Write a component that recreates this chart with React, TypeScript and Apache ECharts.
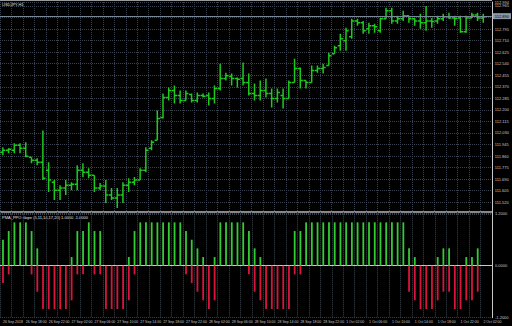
import React, { useEffect, useRef } from "react";
import * as echarts from "echarts";

// time-axis labels, one every 4 bars (first bar is partially visible)
const timeLabels = [
  "26 Sep 2018", "26 Sep 18:00", "26 Sep 22:00", "27 Sep 02:00", "27 Sep 06:00",
  "27 Sep 10:00", "27 Sep 14:00", "27 Sep 18:00", "27 Sep 22:00", "28 Sep 02:00",
  "28 Sep 06:00", "28 Sep 10:00", "28 Sep 14:00", "28 Sep 18:00", "28 Sep 22:00",
  "1 Oct 02:00", "1 Oct 06:00", "1 Oct 10:00", "1 Oct 14:00", "1 Oct 18:00",
  "1 Oct 22:00", "2 Oct 02:00",
];

// USDJPY H1 OHLC
const opens = [
  111.888, 111.902, 111.902, 111.939, 111.917, 111.851, 111.829, 111.815, 111.756, 111.668,
  111.609, 111.624, 111.646, 111.653, 111.756, 111.741, 111.719, 111.624, 111.639, 111.573,
  111.551, 111.573, 111.646, 111.668, 111.683, 111.756, 111.917, 111.976, 112.144, 112.291,
  112.342, 112.306, 112.269, 112.313, 112.269, 112.306, 112.306, 112.284, 112.357, 112.430,
  112.445, 112.430, 112.430, 112.401, 112.320, 112.306, 112.342, 112.320, 112.284, 112.306,
  112.284, 112.401, 112.504, 112.416, 112.401, 112.489, 112.504, 112.526, 112.614, 112.672,
  112.709, 112.738, 112.855, 112.841, 112.797, 112.819, 112.782, 112.870, 112.929, 112.855,
  112.870, 112.892, 112.870, 112.855, 112.841, 112.855, 112.855, 112.870, 112.885, 112.877,
  112.877, 112.775, 112.877, 112.899, 112.877,
];
const highs = [
  111.924, 111.917, 111.954, 111.954, 111.961, 111.851, 111.844, 112.049, 111.815, 111.683,
  111.646, 111.683, 111.668, 111.793, 111.807, 111.771, 111.719, 111.661, 111.683, 111.624,
  111.624, 111.668, 111.697, 111.705, 111.771, 111.924, 111.976, 112.196, 112.320, 112.364,
  112.379, 112.342, 112.342, 112.320, 112.328, 112.320, 112.328, 112.379, 112.540, 112.474,
  112.467, 112.438, 112.548, 112.467, 112.394, 112.416, 112.430, 112.357, 112.357, 112.357,
  112.416, 112.577, 112.511, 112.416, 112.526, 112.526, 112.540, 112.621, 112.672, 112.760,
  112.804, 112.870, 112.870, 112.855, 112.841, 112.833, 112.877, 112.951, 112.951, 112.892,
  112.929, 112.892, 112.877, 112.907, 112.965, 112.877, 112.892, 112.907, 112.914, 112.892,
  112.892, 112.892, 112.914, 112.914, 112.907,
];
const lows = [
  111.866, 111.881, 111.881, 111.881, 111.851, 111.807, 111.793, 111.683, 111.595, 111.536,
  111.536, 111.573, 111.609, 111.609, 111.705, 111.697, 111.595, 111.609, 111.514, 111.536,
  111.477, 111.514, 111.595, 111.646, 111.683, 111.741, 111.902, 111.976, 112.137, 112.269,
  112.247, 112.247, 112.269, 112.254, 112.254, 112.291, 112.232, 112.247, 112.342, 112.416,
  112.379, 112.364, 112.379, 112.306, 112.269, 112.269, 112.291, 112.218, 112.254, 112.210,
  112.284, 112.401, 112.357, 112.357, 112.401, 112.474, 112.467, 112.526, 112.614, 112.635,
  112.635, 112.723, 112.819, 112.760, 112.760, 112.767, 112.767, 112.870, 112.833, 112.833,
  112.855, 112.841, 112.819, 112.797, 112.782, 112.804, 112.833, 112.855, 112.870, 112.819,
  112.767, 112.767, 112.877, 112.855, 112.841,
];
const closes = [
  111.902, 111.910, 111.939, 111.917, 111.859, 111.829, 111.815, 111.697, 111.683, 111.609,
  111.624, 111.646, 111.653, 111.756, 111.741, 111.719, 111.624, 111.639, 111.573, 111.551,
  111.573, 111.646, 111.668, 111.683, 111.756, 111.902, 111.961, 112.137, 112.291, 112.342,
  112.306, 112.269, 112.320, 112.269, 112.306, 112.300, 112.284, 112.357, 112.430, 112.452,
  112.430, 112.425, 112.401, 112.320, 112.306, 112.342, 112.320, 112.284, 112.328, 112.284,
  112.401, 112.504, 112.416, 112.401, 112.489, 112.504, 112.511, 112.599, 112.657, 112.723,
  112.782, 112.855, 112.841, 112.782, 112.819, 112.811, 112.870, 112.929, 112.855, 112.870,
  112.892, 112.870, 112.855, 112.841, 112.855, 112.850, 112.870, 112.885, 112.877, 112.872,
  112.775, 112.877, 112.899, 112.877, 112.885,
];

// PPO slope histogram: green part (>= 0) and red part (<= 0)
const ppoUp = [
  0.6, 0.8, 1, 1, 1, 0.8, 0.4, 0, 0, 0,
  0, 0, 0.2, 0.8, 0.8, 1, 0.8, 0.8, 0, 0,
  0, 0, 0.2, 0.8, 1, 1, 1, 1, 1, 1,
  1, 1, 0.8, 0.6, 0.4, 0.2, 0, 0.2, 1, 1,
  1, 1, 1, 0.8, 0.4, 0.2, 0, 0, 0, 0,
  0, 0.8, 0.8, 1, 1, 1, 1, 1, 1, 1,
  1, 1, 1, 1, 1, 1, 1, 1, 1, 1,
  1, 0.4, 0.2, 0, 0, 0, 0.2, 0.4, 0.4, 0,
  0, 0.2, 0.2, 0.4,
];
const ppoDown = [
  -0.4, -0.2, 0, 0, 0, -0.2, -0.6, -1, -1, -1,
  -1, -1, -0.8, -0.2, -0.2, 0, -0.2, -0.2, -1, -1,
  -1, -1, -0.8, -0.2, 0, 0, 0, 0, 0, 0,
  0, 0, -0.2, -0.4, -0.6, -0.8, -1, -0.8, 0, 0,
  0, 0, 0, -0.2, -0.6, -0.8, -1, -1, -1, -1,
  -1, -0.2, -0.2, 0, 0, 0, 0, 0, 0, 0,
  0, 0, 0, 0, 0, 0, 0, 0, 0, 0,
  0, -0.6, -0.8, -1, -1, -1, -0.8, -0.6, -0.6, -1,
  -1, -0.8, -0.8, -0.6,
];

const PRICE_MIN = 111.435;
const PRICE_MAX = 112.994;
const PRICE_STEP = 0.085;

const FONT = "Liberation Sans";
const GRID_COLOR = "#3a434d";
const AXIS_COLOR = "#c8c8c8";
const BAR_COLOR = "#1ccc1c";

export default function App() {
  const ref = useRef<HTMLDivElement>(null);
  useEffect(() => {
    const chart = echarts.init(ref.current!, undefined, { renderer: "svg" });
    const n = opens.length + 1;
    const cats = Array.from({ length: n }, (_, i) => String(i));
    const ohlc = opens.map((o, i) => [i, o, closes[i], lows[i], highs[i]]);
    const lastClose = closes[closes.length - 1];

    const splitLine = {
      show: true,
      lineStyle: { color: GRID_COLOR, type: "dotted" as const, width: 1 },
    };

    chart.setOption({
      animation: false,
      backgroundColor: "#000000",
      grid: [
        { left: -2.625, right: 20, top: 1, height: 212.8 },
        { left: -2.625, right: 20, top: 213.7, height: 104 },
      ],
      xAxis: [
        {
          type: "category", gridIndex: 0, data: cats, boundaryGap: true,
          axisLine: { show: false }, axisTick: { show: false }, axisLabel: { show: false },
          splitLine: { ...splitLine, interval: 1 },
        },
        {
          type: "category", gridIndex: 1, data: cats, boundaryGap: true,
          axisLine: { show: true, lineStyle: { color: AXIS_COLOR, width: 1 } },
          axisTick: { show: false },
          axisLabel: {
            show: true, interval: 3, color: AXIS_COLOR, fontSize: 3.5, fontFamily: FONT,
            align: "left", margin: 2, hideOverlap: false,
            formatter: (_v: string, idx: number) => (idx % 4 === 0 && timeLabels[idx / 4]) ? timeLabels[idx / 4] : "",
          },
          splitLine: { ...splitLine, interval: 1 },
        },
      ],
      yAxis: [
        {
          type: "value", gridIndex: 0, position: "right", min: PRICE_MIN, max: PRICE_MAX, interval: PRICE_STEP,
          axisLine: { show: true, lineStyle: { color: AXIS_COLOR, width: 1 } },
          axisTick: { show: false },
          axisLabel: {
            color: AXIS_COLOR, fontSize: 4, fontFamily: FONT, margin: 3, showMinLabel: false,
            formatter: (v: number) => v.toFixed(3),
          },
          splitLine,
        },
        {
          type: "value", gridIndex: 1, position: "right", min: -1.2, max: 1.2, interval: 1.2,
          axisLine: { show: true, lineStyle: { color: AXIS_COLOR, width: 1 } },
          axisTick: { show: false },
          axisLabel: { color: AXIS_COLOR, fontSize: 4, fontFamily: FONT, margin: 3, formatter: (v: number) => v.toFixed(4) },
          splitLine,
        },
      ],
      series: [
        {
          type: "custom", name: "USDJPY", xAxisIndex: 0, yAxisIndex: 0, clip: true,
          data: ohlc,
          encode: { x: 0, y: [1, 2, 3, 4] },
          renderItem: (_p: any, api: any) => {
            const idx = api.value(0);
            const pO = api.coord([idx, api.value(1)]);
            const pC = api.coord([idx, api.value(2)]);
            const pL = api.coord([idx, api.value(3)]);
            const pH = api.coord([idx, api.value(4)]);
            const x = pO[0];
            const st = { stroke: BAR_COLOR, lineWidth: 1.5 };
            return {
              type: "group",
              children: [
                { type: "line", shape: { x1: x, y1: pH[1], x2: x, y2: pL[1] }, style: st },
                { type: "line", shape: { x1: x - 2.6, y1: pO[1], x2: x, y2: pO[1] }, style: st },
                { type: "line", shape: { x1: x, y1: pC[1], x2: x + 2.6, y2: pC[1] }, style: st },
              ],
            };
          },
          markLine: {
            silent: true, symbol: ["none", "none"],
            lineStyle: { color: "#778899", type: "solid", width: 1 },
            label: {
              show: true, position: "end", distance: 1, fontSize: 4, fontFamily: FONT,
              color: "#000000", backgroundColor: "#8a98a8", padding: [1, 2],
              formatter: (p: any) => Number(p.value).toFixed(3),
            },
            data: [{ yAxis: lastClose }],
          },
        },
        {
          type: "bar", name: "up", xAxisIndex: 1, yAxisIndex: 1, data: ppoUp,
          barWidth: 1.8, barGap: "-100%", itemStyle: { color: "#32cd32" },
        },
        {
          type: "bar", name: "down", xAxisIndex: 1, yAxisIndex: 1, data: ppoDown,
          barWidth: 1.8, barGap: "-100%", itemStyle: { color: "#dc143c" },
        },
      ],
      graphic: [
        { type: "line", shape: { x1: 0, y1: 0.5, x2: 492, y2: 0.5 }, style: { stroke: "#9a9a9a", lineWidth: 1 } },
        { type: "line", shape: { x1: 0, y1: 212, x2: 492, y2: 212 }, style: { stroke: "#b4b4b4", lineWidth: 1.5 } },
        { type: "text", x: 2, y: 2, style: { text: "USDJPY,H1", fill: "#e0e0e0", fontSize: 4, fontFamily: FONT } },
        { type: "text", x: 2, y: 215, style: { text: "PMA_PPO slope (5,11,14,17,20) 1.0000 -1.0000", fill: "#e0e0e0", fontSize: 4, fontFamily: FONT } },
      ],
    });
    return () => chart.dispose();
  }, []);
  return (
    <div
      ref={ref}
      style={{ position: "fixed", left: 0, top: 0, width: 512, height: 326, background: "#000" }}
    />
  );
}
